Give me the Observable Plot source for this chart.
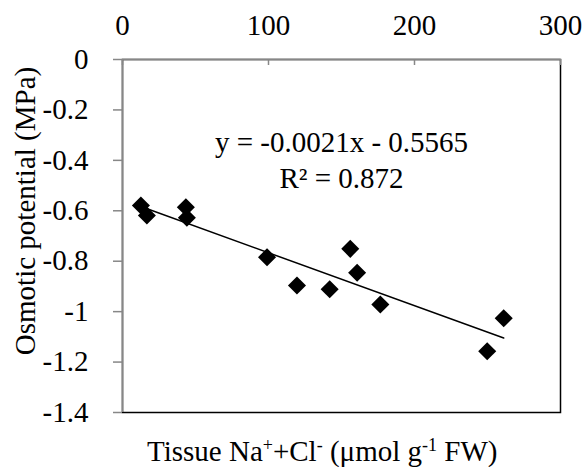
<!DOCTYPE html>
<html>
<head>
<meta charset="utf-8">
<script src="https://cdn.jsdelivr.net/npm/d3@7"></script>
<script src="https://cdn.jsdelivr.net/npm/@observablehq/plot@0.6"></script>
<style>
  body { margin: 0; background: #fff; }
</style>
</head>
<body>
<div id="chart"></div>
<script>
// Tissue Na+ + Cl- (µmol g-1 FW)
const tissueNaCl = [12.6, 16.7, 43.4, 44.1, 99.0, 119.5, 141.9, 156.0, 160.7, 176.6, 249.8, 261.1];
// Osmotic potential (MPa)
const osmoticPotential = [-0.579, -0.619, -0.586, -0.628, -0.784, -0.896, -0.911, -0.751, -0.846, -0.972, -1.157, -1.026];

const xTicks = [0, 100, 200, 300];
const yTicks = [0, -0.2, -0.4, -0.6, -0.8, -1, -1.2, -1.4];

const slope = -0.0021, intercept = -0.5565;
const equationLabels = ["y = -0.0021x - 0.5565", "R² = 0.872"];
const equationX = [150, 150];
const equationY = [-0.331, -0.471];

const points = tissueNaCl.map((x, i) => ({x, y: osmoticPotential[i]}));
const xMin = d3.min(tissueNaCl), xMax = d3.max(tissueNaCl);
const trend = [xMin, xMax].map(x => ({x, y: slope * x + intercept}));
const eq = equationLabels.map((t, i) => ({t, x: equationX[i], y: equationY[i]}));

const W = 585, H = 467;
const mt = 59, mb = 55, ml = 122, mr = 25;
const gray = "#878787";
const fs = 29;
const ff = "Liberation Serif";

const chart = Plot.plot({
  width: W,
  height: H,
  marginTop: mt,
  marginBottom: mb,
  marginLeft: ml,
  marginRight: mr,
  style: {fontSize: "29px", color: "black", background: "white"},
  x: {domain: [0, 300]},
  y: {domain: [-1.4, 0]},
  marks: [
    Plot.frame({stroke: "black", strokeWidth: 1.5}),
    Plot.ruleX([0], {stroke: gray, strokeWidth: 1.5}),
    Plot.ruleY([0], {stroke: gray, strokeWidth: 1.5}),
    Plot.tickX(xTicks, {x: d => d, stroke: gray, strokeWidth: 1.5, insetBottom: (H - mt - mb) - 6}),
    Plot.axisX({anchor: "top", ticks: xTicks, tickSize: 0, tickPadding: 25, tickFormat: d => String(d), fontSize: fs, fontFamily: ff, label: null}),
    Plot.axisY({anchor: "left", ticks: yTicks, tickSize: 9, tickPadding: 25, stroke: gray, strokeWidth: 1.5, tickFormat: d => String(d), fontSize: fs, fontFamily: ff, label: null}),
    Plot.line(trend, {x: "x", y: "y", stroke: "black", strokeWidth: 1.5}),
    Plot.dot(points, {x: "x", y: "y", symbol: "square", rotate: 45, r: 7.2, fill: "black", stroke: "none"}),
    Plot.text(eq, {x: "x", y: "y", text: "t", fontSize: fs, fontFamily: ff, fill: "black", textAnchor: "middle", lineAnchor: "middle"})
  ]
});

document.getElementById("chart").appendChild(chart);

const svg = d3.select(chart);
// Y axis title
svg.append("text")
  .attr("transform", "translate(35,211) rotate(-90)")
  .attr("text-anchor", "middle")
  .attr("font-size", fs)
  .attr("fill", "black")
  .text("Osmotic potential (MPa)");

// X axis title with superscripts
const xt = svg.append("text")
  .attr("x", 147)
  .attr("y", 461)
  .attr("text-anchor", "start")
  .attr("font-size", fs)
  .attr("fill", "black");
const parts = [["Tissue Na", false], ["+", true], ["+Cl", false], ["-", true], [" (μmol g", false], ["-1", true], [" FW)", false]];
let prevSup = false;
parts.forEach(([t, sup]) => {
  let dy = 0;
  if (sup && !prevSup) dy = -10;
  if (!sup && prevSup) dy = 10;
  xt.append("tspan")
    .attr("font-size", sup ? 18 : fs)
    .attr("dy", dy)
    .text(t);
  prevSup = sup;
});

svg.selectAll("text").style("font-family", "'Liberation Serif', serif");
</script>
</body>
</html>
